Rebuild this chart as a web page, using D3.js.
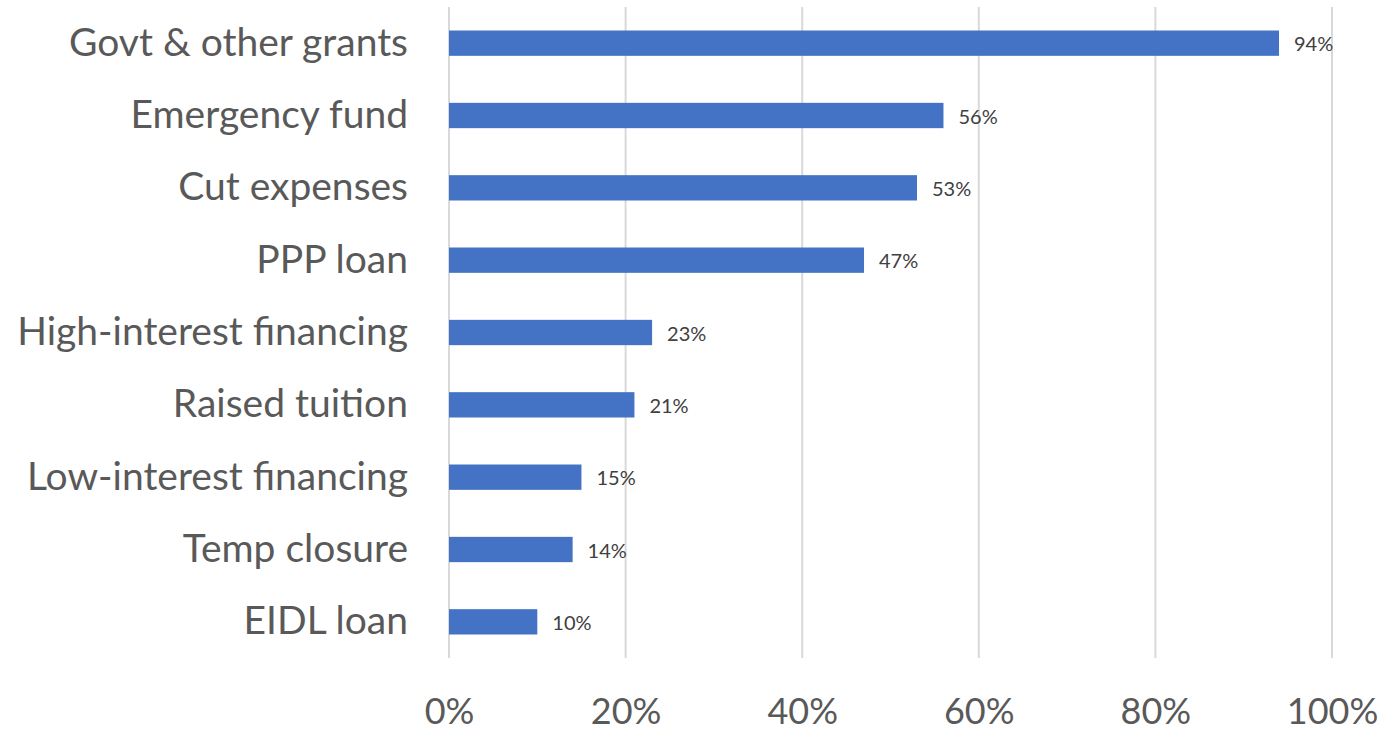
<!DOCTYPE html>
<html>
<head>
<meta charset="utf-8">
<script src="https://cdn.jsdelivr.net/npm/d3@7"></script>
<style>
  html, body { margin: 0; padding: 0; background: #fff; }
  svg { display: block; font-family: Lato, "Open Sans", sans-serif; }
</style>
</head>
<body>
<svg id="chart" width="1384" height="731"></svg>
<script>
// Funding sources used, share of respondents (%)
const categories = [
  "Govt & other grants",
  "Emergency fund",
  "Cut expenses",
  "PPP loan",
  "High-interest financing",
  "Raised tuition",
  "Low-interest financing",
  "Temp closure",
  "EIDL loan"
];
const values = [94, 56, 53, 47, 23, 21, 15, 14, 10];
const tickValues = [0, 20, 40, 60, 80, 100];

const svg = d3.select("#chart");
const margin = { top: 7, right: 52, bottom: 73, left: 449 };
const width = 1384 - margin.left - margin.right;
const height = 731 - margin.top - margin.bottom;

const g = svg.append("g").attr("transform", `translate(${margin.left},${margin.top})`);

const x = d3.scaleLinear().domain([0, 100]).range([0, width]);
const y = d3.scaleBand().domain(categories).range([0, height]).paddingInner(0.65).paddingOuter(0.325);

// vertical gridlines
g.append("g")
  .selectAll("line")
  .data(tickValues)
  .join("line")
  .attr("x1", d => x(d)).attr("x2", d => x(d))
  .attr("y1", 0).attr("y2", height)
  .attr("stroke", "#d9d9d9")
  .attr("stroke-width", 2);

// bars
g.append("g")
  .selectAll("rect")
  .data(values)
  .join("rect")
  .attr("x", x(0))
  .attr("y", (d, i) => y(categories[i]))
  .attr("width", d => x(d) - x(0))
  .attr("height", y.bandwidth())
  .attr("fill", "#4472c4");

// value labels
g.append("g")
  .selectAll("text")
  .data(values)
  .join("text")
  .attr("x", d => x(d) + 15)
  .attr("y", (d, i) => y(categories[i]) + y.bandwidth() / 2 + 1)
  .attr("dy", "0.35em")
  .attr("fill", "#404040")
  .attr("font-size", 20)
  .text(d => d + "%");

// category axis
const yAxis = g.append("g").call(d3.axisLeft(y).tickSize(0).tickPadding(41));
yAxis.select(".domain").remove();
yAxis.selectAll("text")
  .attr("fill", "#595959")
  .attr("font-size", 39)
  .attr("font-family", "Lato, 'Open Sans', sans-serif");

// percentage axis
const xAxis = g.append("g")
  .attr("transform", `translate(0,${height})`)
  .call(d3.axisBottom(x).tickValues(tickValues).tickFormat(d => d + "%").tickSize(0).tickPadding(40));
xAxis.select(".domain").remove();
xAxis.selectAll("text")
  .attr("fill", "#595959")
  .attr("font-size", 36)
  .attr("font-family", "Lato, 'Open Sans', sans-serif");
</script>
</body>
</html>
